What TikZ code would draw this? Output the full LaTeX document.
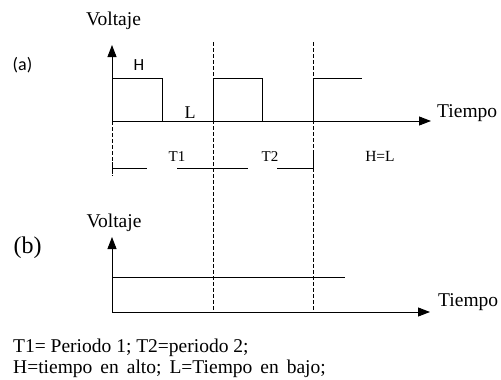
\documentclass[tikz,border=0pt]{standalone}
\usepackage{fontspec}
\setmainfont{Liberation Serif}
\newfontfamily\sansfont{Carlito}
\usetikzlibrary{arrows.meta, positioning}

\begin{document}
\begin{tikzpicture}[x=1pt, y=-1pt,
  axis/.style={-{Triangle[length=12pt, width=9pt]}, line width=0.9pt},
  signal/.style={line width=0.9pt},
  guide/.style={dash pattern=on 4pt off 2pt, line width=0.7pt},
  txt/.style={inner sep=0pt, anchor=base, font=\fontsize{#1}{#1}\selectfont},
  txt/.default=19.5]
  \useasboundingbox (0,0) rectangle (501,380);

  % Axes (a)
  \coordinate (oa) at (112,121);
  \coordinate (ya) at (112,45);
  \coordinate (xa) at (431,121);
  \draw[axis] (oa) -- (ya);
  \draw[axis] (oa) -- (xa);
  \node[txt] (volta) at (113.5,25) {Voltaje};
  \node[txt, anchor=base west] (tiempoa) at (437,117) {Tiempo};
  \node[txt, font=\sansfont\fontsize{18}{18}\selectfont] (pa) at (22.5,70) {(a)};

  % Square wave
  \draw[signal] (oa) -- (112,78) -- (162,78) -- (162,121)
    (213,121) -- (213,78) -- (262,78) -- (262,121)
    (313,121) -- (313,78) -- (362,78);
  \node[txt, font=\sansfont\fontsize{17}{17}\selectfont] (high) at (139,70) {H};
  \node[txt=18] (low) at (190,118) {L};

  % Period marks
  \draw[guide] (oa) -- (112,176);
  \draw[signal] (112,162) -- (112,174);
  \draw[signal] (112,168) -- (147,168) (177,168) -- (248,168) (277,168) -- (313,168);
  \draw[signal] (313,152) -- (313,168);
  \node[txt=15] (tone) at (177,161) {T1};
  \node[txt=15] (ttwo) at (270,161) {T2};
  \node[txt=15.5] (hl) at (380,161) {H=L};

  % Axes (b)
  \coordinate (ob) at (112,312);
  \coordinate (yb) at (112,237);
  \coordinate (xb) at (430,312);
  \draw[axis] (ob) -- (yb);
  \draw[axis] (ob) -- (xb);
  \node[txt] (voltb) at (114,227) {Voltaje};
  \node[txt, anchor=base west] (tiempob) at (438,306) {Tiempo};
  \node[txt=24] (pb) at (27.5,253) {(b)};

  % Constant level
  \draw[signal] (112,277) -- (345,277);

  % Vertical guides through both panels
  \foreach \gx in {213,313}
    \draw[guide] (\gx,42) -- (\gx,312);

  % Legend
  \node[txt, anchor=base west] (leyenda1) at (13,352) {T1= Periodo 1; T2=periodo 2;};
  \node[txt, anchor=base west] (leyenda2) at (13,373)
    {\spaceskip=8pt H=tiempo en alto; L=Tiempo en bajo;};

\end{tikzpicture}
\end{document}
